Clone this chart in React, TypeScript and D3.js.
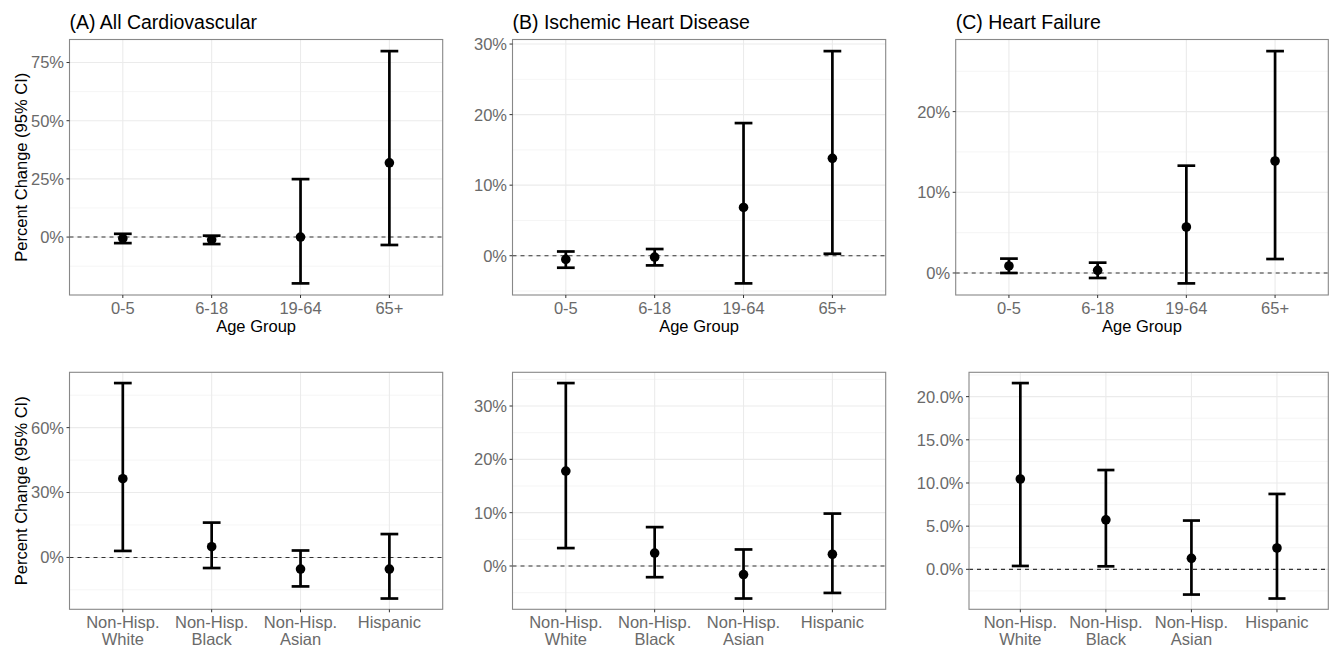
import React from "react";
import * as d3 from "d3";

// ---------- DATA ----------
const ageGroups = ["0-5", "6-18", "19-64", "65+"];
const raceGroups = ["Non-Hisp.\nWhite", "Non-Hisp.\nBlack", "Non-Hisp.\nAsian", "Hispanic"];

// (A) All Cardiovascular by age
const cvAgeEst = [-0.6, -1.2, 0.0, 31.9];
const cvAgeLo = [-2.6, -3.0, -19.9, -3.4];
const cvAgeHi = [1.4, 0.6, 24.9, 79.9];
// (B) Ischemic heart disease by age
const ihdAgeEst = [-0.52, -0.2, 6.84, 13.8];
const ihdAgeLo = [-1.7, -1.37, -3.92, 0.28];
const ihdAgeHi = [0.6, 0.95, 18.8, 29.0];
// (C) Heart failure by age
const hfAgeEst = [0.87, 0.33, 5.7, 13.88];
const hfAgeLo = [0.0, -0.62, -1.29, 1.73];
const hfAgeHi = [1.78, 1.28, 13.3, 27.5];
// All cardiovascular by race
const cvRaceEst = [36.4, 4.95, -5.4, -5.4];
const cvRaceLo = [3.0, -4.9, -13.4, -19.0];
const cvRaceHi = [80.6, 16.1, 3.2, 10.8];
// Ischemic heart disease by race
const ihdRaceEst = [17.8, 2.43, -1.6, 2.2];
const ihdRaceLo = [3.36, -2.1, -6.1, -5.05];
const ihdRaceHi = [34.3, 7.29, 3.1, 9.83];
// Heart failure by race
const hfRaceEst = [10.46, 5.73, 1.27, 2.47];
const hfRaceLo = [0.39, 0.35, -2.92, -3.38];
const hfRaceHi = [21.57, 11.5, 5.65, 8.73];

// tick values
const ticksCvAge = [0, 25, 50, 75];
const ticksIhdAge = [0, 10, 20, 30];
const ticksHfAge = [0, 10, 20];
const ticksCvRace = [0, 30, 60];
const ticksIhdRace = [0, 10, 20, 30];
const ticksHfRace = [0, 5, 10, 15, 20];

const titles = ["(A) All Cardiovascular", "(B) Ischemic Heart Disease", "(C) Heart Failure"];

const FONT = "'Liberation Sans', Arial, Helvetica, sans-serif";
const FS = 16.5;

type PanelSpec = {
  cats: string[];
  est: number[];
  lo: number[];
  hi: number[];
  ticks: number[];
  decimals: number;
  left: number;
  right: number;
  top: number;
  bottom: number;
  title?: string;
  xTitle?: string;
  yTitle?: string;
};

function Panel({ p }: { p: PanelSpec }) {
  const x = d3.scalePoint<string>().domain(p.cats).range([p.left, p.right]).padding(0.6);
  const step = x.step();
  const mn = Math.min(0, d3.min(p.lo)!);
  const mx = Math.max(0, d3.max(p.hi)!);
  const pad = (mx - mn) * 0.05;
  const y = d3.scaleLinear().domain([mn - pad, mx + pad]).range([p.bottom, p.top]);
  const [d0, d1] = y.domain();
  const tstep = p.ticks[1] - p.ticks[0];
  const minor: number[] = [];
  for (let v = p.ticks[0] - tstep * 3 + tstep / 2; v < d1 + tstep; v += tstep) {
    if (v > d0 && v < d1) minor.push(v);
  }
  const fmt = (v: number) => v.toFixed(p.decimals) + "%";
  const capHalf = step * 0.1;
  const cx = (p.left + p.right) / 2;
  const cy = (p.top + p.bottom) / 2;
  return (
    <g>
      <rect x={p.left} y={p.top} width={p.right - p.left} height={p.bottom - p.top} fill="#fff" />
      {minor.map((v) => (
        <line key={"mn" + v} x1={p.left} x2={p.right} y1={y(v)} y2={y(v)} stroke="#F2F2F2" strokeWidth={0.8} />
      ))}
      {p.ticks.map((v) => (
        <line key={"mj" + v} x1={p.left} x2={p.right} y1={y(v)} y2={y(v)} stroke="#EBEBEB" strokeWidth={1.1} />
      ))}
      {p.cats.map((c) => (
        <line key={"vx" + c} x1={x(c)} x2={x(c)} y1={p.top} y2={p.bottom} stroke="#EBEBEB" strokeWidth={1.1} />
      ))}
      <line x1={p.left} x2={p.right} y1={y(0)} y2={y(0)} stroke="#333" strokeWidth={1.1} strokeDasharray="4,4" />
      {p.cats.map((c, i) => {
        const xc = x(c)!;
        return (
          <g key={"eb" + c}>
            <line x1={xc} x2={xc} y1={y(p.lo[i])} y2={y(p.hi[i])} stroke="#000" strokeWidth={2.7} />
            <line x1={xc - capHalf} x2={xc + capHalf} y1={y(p.lo[i])} y2={y(p.lo[i])} stroke="#000" strokeWidth={2.7} />
            <line x1={xc - capHalf} x2={xc + capHalf} y1={y(p.hi[i])} y2={y(p.hi[i])} stroke="#000" strokeWidth={2.7} />
            <circle cx={xc} cy={y(p.est[i])} r={4.8} fill="#000" />
          </g>
        );
      })}
      <rect x={p.left} y={p.top} width={p.right - p.left} height={p.bottom - p.top} fill="none" stroke="#888" strokeWidth={1.1} />
      {p.ticks.map((v) => (
        <g key={"yt" + v}>
          <line x1={p.left - 3} x2={p.left} y1={y(v)} y2={y(v)} stroke="#333" strokeWidth={1} />
          <text x={p.left - 5.5} y={y(v)} dy="0.36em" textAnchor="end" fontSize={FS} fill="#6a6a6a" fontFamily={FONT}>
            {fmt(v)}
          </text>
        </g>
      ))}
      {p.cats.map((c) => {
        const lines = c.split("\n");
        return (
          <g key={"xt" + c}>
            <line x1={x(c)} x2={x(c)} y1={p.bottom} y2={p.bottom + 3} stroke="#333" strokeWidth={1} />
            {lines.map((ln, k) => (
              <text key={k} x={x(c)} y={p.bottom + 18.6 + k * 17.3} textAnchor="middle" fontSize={FS} fill="#6a6a6a" fontFamily={FONT}>
                {ln}
              </text>
            ))}
          </g>
        );
      })}
      {p.title && (
        <text x={p.left} y={p.top - 10.5} fontSize={19.5} fill="#000" fontFamily={FONT}>
          {p.title}
        </text>
      )}
      {p.xTitle && (
        <text x={cx} y={p.bottom + 36.9} textAnchor="middle" fontSize={FS} fill="#000" fontFamily={FONT}>
          {p.xTitle}
        </text>
      )}
      {p.yTitle && (
        <text transform={`translate(26.5,${cy}) rotate(-90)`} textAnchor="middle" fontSize={FS} fill="#000" fontFamily={FONT}>
          {p.yTitle}
        </text>
      )}
    </g>
  );
}

export default function App() {
  const topT = 39.5, topB = 295;
  const botT = 372.3, botB = 609.3;
  const panels: PanelSpec[] = [
    { cats: ageGroups, est: cvAgeEst, lo: cvAgeLo, hi: cvAgeHi, ticks: ticksCvAge, decimals: 0, left: 69.5, right: 442.7, top: topT, bottom: topB, title: titles[0], xTitle: "Age Group", yTitle: "Percent Change (95% CI)" },
    { cats: ageGroups, est: ihdAgeEst, lo: ihdAgeLo, hi: ihdAgeHi, ticks: ticksIhdAge, decimals: 0, left: 512.5, right: 885.7, top: topT, bottom: topB, title: titles[1], xTitle: "Age Group" },
    { cats: ageGroups, est: hfAgeEst, lo: hfAgeLo, hi: hfAgeHi, ticks: ticksHfAge, decimals: 0, left: 955.7, right: 1328.3, top: topT, bottom: topB, title: titles[2], xTitle: "Age Group" },
    { cats: raceGroups, est: cvRaceEst, lo: cvRaceLo, hi: cvRaceHi, ticks: ticksCvRace, decimals: 0, left: 69.5, right: 442.7, top: botT, bottom: botB, yTitle: "Percent Change (95% CI)" },
    { cats: raceGroups, est: ihdRaceEst, lo: ihdRaceLo, hi: ihdRaceHi, ticks: ticksIhdRace, decimals: 0, left: 512.5, right: 885.7, top: botT, bottom: botB },
    { cats: raceGroups, est: hfRaceEst, lo: hfRaceLo, hi: hfRaceHi, ticks: ticksHfRace, decimals: 1, left: 969, right: 1328.3, top: botT, bottom: botB },
  ];
  return (
    <div style={{ position: "absolute", left: 0, top: 0 }}>
      <svg width={1330} height={650} style={{ display: "block", background: "#fff" }}>
        <rect width={1330} height={650} fill="#fff" />
        {panels.map((p, i) => (
          <Panel key={i} p={p} />
        ))}
      </svg>
    </div>
  );
}
